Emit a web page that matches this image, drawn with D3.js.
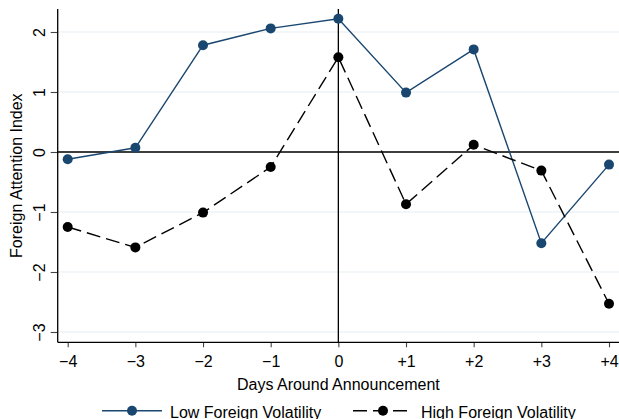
<!DOCTYPE html>
<html>
<head>
<meta charset="utf-8">
<script src="https://cdn.jsdelivr.net/npm/d3@7"></script>
<style>
  html, body { margin: 0; padding: 0; background: #fff; }
  svg { display: block; }
  text { font-family: "Liberation Sans", Arial, Helvetica, sans-serif; fill: #000; }
</style>
</head>
<body>
<svg id="chart" width="619" height="419"></svg>
<script>
const days = [-4, -3, -2, -1, 0, 1, 2, 3, 4];
const dayLabels = ["\u22124", "\u22123", "\u22122", "\u22121", "0", "+1", "+2", "+3", "+4"];
const lowVol = [-0.12, 0.07, 1.78, 2.06, 2.22, 0.99, 1.71, -1.52, -0.21];
const highVol = [-1.25, -1.59, -1.01, -0.25, 1.58, -0.87, 0.12, -0.31, -2.53];
const yTicks = [-3, -2, -1, 0, 1, 2];
const yTickLabels = ["\u22123", "\u22122", "\u22121", "0", "1", "2"];
const seriesNames = ["Low Foreign Volatility", "High Foreign Volatility"];

const svg = d3.select("#chart");
const W = 619, H = 419;
const plotLeft = 57.7, plotRight = 619.5, plotTop = 9, plotBottom = 342.3;

const x = d3.scaleLinear().domain([-4, 4]).range([67.7, 609]);
const y = d3.scaleLinear().domain([-3, 2]).range([332, 32]);

const blue = "#1a476f";
const gridColor = "#e6eef1";

// gridlines
svg.append("g").selectAll("line").data(yTicks).join("line")
  .attr("x1", plotLeft).attr("x2", plotRight)
  .attr("y1", d => y(d)).attr("y2", d => y(d))
  .attr("stroke", gridColor).attr("stroke-width", 1.2);

// zero line
svg.append("line")
  .attr("x1", plotLeft).attr("x2", plotRight)
  .attr("y1", y(0)).attr("y2", y(0))
  .attr("stroke", "#000").attr("stroke-width", 1.3);

// vertical line at day 0
svg.append("line")
  .attr("x1", x(0)).attr("x2", x(0))
  .attr("y1", plotTop).attr("y2", plotBottom)
  .attr("stroke", "#000").attr("stroke-width", 1.3);

// x axis
const xAxis = svg.append("g")
  .attr("transform", `translate(0,${plotBottom})`)
  .call(d3.axisBottom(x).tickValues(days).tickSize(5).tickPadding(8)
    .tickFormat((d, i) => dayLabels[i]));
xAxis.select(".domain").remove();
xAxis.selectAll(".tick line").attr("stroke", "#444").attr("stroke-width", 1.1);
xAxis.selectAll(".tick text").attr("font-size", 16).attr("dy", null).attr("y", 24.3)
  .style("font-family", '"Liberation Sans", Arial, Helvetica, sans-serif').attr("fill", "#000");

// y axis
const yAxis = svg.append("g")
  .attr("transform", `translate(${plotLeft},0)`)
  .call(d3.axisLeft(y).tickValues(yTicks).tickSize(7)
    .tickFormat((d, i) => yTickLabels[i]));
yAxis.select(".domain").remove();
yAxis.selectAll(".tick line").attr("stroke", "#444").attr("stroke-width", 1.1);
yAxis.selectAll(".tick text")
  .attr("x", null).attr("dy", null)
  .attr("transform", "translate(-12.5,0) rotate(-90)")
  .attr("text-anchor", "middle")
  .attr("font-size", 16)
  .style("font-family", '"Liberation Sans", Arial, Helvetica, sans-serif').attr("fill", "#000");

// axis lines
svg.append("line").attr("x1", plotLeft).attr("x2", plotLeft)
  .attr("y1", plotTop).attr("y2", plotBottom).attr("stroke", "#000").attr("stroke-width", 1.3);
svg.append("line").attr("x1", plotLeft).attr("x2", plotRight)
  .attr("y1", plotBottom).attr("y2", plotBottom).attr("stroke", "#000").attr("stroke-width", 1.3);

// series
const line = d3.line().x((d, i) => x(days[i])).y(d => y(d));

svg.append("path").datum(lowVol).attr("d", line)
  .attr("fill", "none").attr("stroke", blue).attr("stroke-width", 1.4);
svg.append("g").selectAll("circle").data(lowVol).join("circle")
  .attr("cx", (d, i) => x(days[i])).attr("cy", d => y(d)).attr("r", 5).attr("fill", blue);

svg.append("path").datum(highVol).attr("d", line)
  .attr("fill", "none").attr("stroke", "#000").attr("stroke-width", 1.4)
  .attr("stroke-dasharray", "14,6");
svg.append("g").selectAll("circle").data(highVol).join("circle")
  .attr("cx", (d, i) => x(days[i])).attr("cy", d => y(d)).attr("r", 5).attr("fill", "#000");

// axis titles
svg.append("text").attr("x", x(0)).attr("y", 390).attr("text-anchor", "middle")
  .attr("font-size", 16).text("Days Around Announcement");
svg.append("text").attr("transform", `translate(22,${(plotTop + plotBottom) / 2}) rotate(-90)`)
  .attr("text-anchor", "middle").attr("font-size", 16).text("Foreign Attention Index");

// legend
const legY = 410.7;
const leg = svg.append("g");
leg.append("line").attr("x1", 102).attr("x2", 162).attr("y1", legY).attr("y2", legY)
  .attr("stroke", blue).attr("stroke-width", 1.4);
leg.append("circle").attr("cx", 132).attr("cy", legY).attr("r", 5).attr("fill", blue);
leg.append("text").attr("x", 170).attr("y", 418).attr("font-size", 16).text(seriesNames[0]);

leg.append("line").attr("x1", 353).attr("x2", 413).attr("y1", legY).attr("y2", legY)
  .attr("stroke", "#000").attr("stroke-width", 1.4).attr("stroke-dasharray", "14,6");
leg.append("circle").attr("cx", 383).attr("cy", legY).attr("r", 5).attr("fill", "#000");
leg.append("text").attr("x", 421).attr("y", 418).attr("font-size", 16).text(seriesNames[1]);
</script>
</body>
</html>
